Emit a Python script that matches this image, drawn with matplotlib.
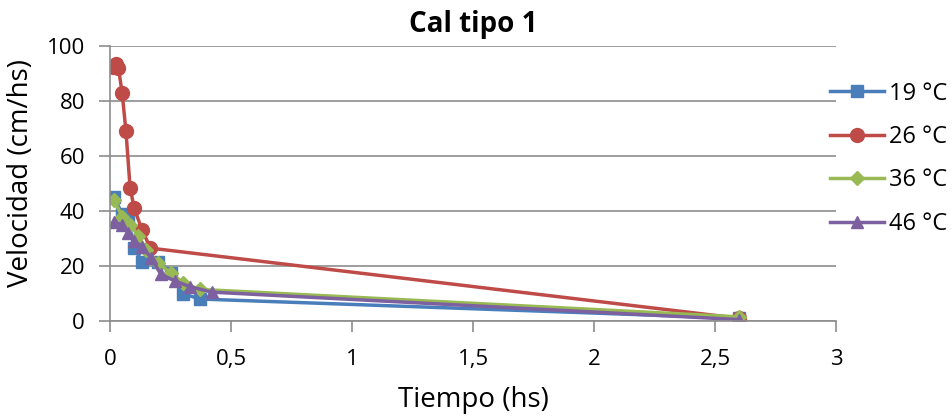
import matplotlib
matplotlib.use("Agg")
import matplotlib.pyplot as plt

plt.rcParams['font.family'] = ['Open Sans', 'DejaVu Sans']

title = "Cal tipo 1"
x_label = "Tiempo (hs)"
y_label = "Velocidad (cm/hs)"

series_labels = ["19 °C", "26 °C", "36 °C", "46 °C"]

t19 = [0.017, 0.05, 0.075, 0.1, 0.133, 0.2, 0.25, 0.3, 0.37, 2.6]
v19 = [45, 39, 37, 26.5, 21.5, 21.5, 17.5, 10, 8, 1]

t26 = [0.012, 0.025, 0.035, 0.05, 0.066, 0.083, 0.1, 0.133, 0.167, 2.6]
v26 = [92.5, 93.5, 92, 83, 69, 48.5, 41, 33, 26.5, 1]

t36 = [0.017, 0.05, 0.083, 0.117, 0.15, 0.2, 0.25, 0.3, 0.37, 2.6]
v36 = [44, 38, 35, 31, 26, 21, 17.5, 14, 11.5, 1.5]

t46 = [0.017, 0.05, 0.075, 0.1, 0.133, 0.17, 0.21, 0.27, 0.33, 0.42, 2.6]
v46 = [36, 35, 32, 29, 27, 23, 17, 14.5, 12.5, 10.5, 0.5]

colors = ["#4A7EBB", "#BE4B48", "#98B954", "#7D60A0"]
markers = ["s", "o", "D", "^"]
msizes = [9, 10, 7, 9]

fig = plt.figure(figsize=(9.52, 4.18), dpi=100)
ax = fig.add_axes([110/952, 1-321/418, (836-110)/952, (321-46)/418])

data = [(t19, v19), (t26, v26), (t36, v36), (t46, v46)]
for (t, v), lab, c, m, ms in zip(data, series_labels, colors, markers, msizes):
    ax.plot(t, v, color=c, marker=m, markersize=ms, linewidth=2.5, label=lab)

ax.set_xlim(0, 3)
ax.set_ylim(0, 100)
ax.set_xticks([0, 0.5, 1, 1.5, 2, 2.5, 3])
ax.set_xticklabels(["0", "0,5", "1", "1,5", "2", "2,5", "3"])
ax.set_yticks([0, 20, 40, 60, 80, 100])

ax.yaxis.grid(True, color="#8c8c8c", linewidth=1.2)
ax.set_axisbelow(True)
for s in ["top", "right"]:
    ax.spines[s].set_visible(False)
for s in ["left", "bottom"]:
    ax.spines[s].set_color("#8c8c8c")
    ax.spines[s].set_linewidth(1.2)
ax.tick_params(axis="both", colors="#8c8c8c", labelcolor="black", labelsize=16,
               length=8, width=1.2)
ax.tick_params(axis="y", pad=10)
ax.tick_params(axis="x", pad=12)

ax.set_title(title, fontsize=20, fontweight="bold", pad=10)
ax.set_xlabel(x_label, fontsize=20, labelpad=12)
ax.set_ylabel(y_label, fontsize=20)
ax.yaxis.set_label_coords((35 - 110) / 726, (321 - 173) / 275)

leg = ax.legend(loc="upper left", bbox_to_anchor=(0.9917, 0.87), frameon=False,
                fontsize=17, handlelength=2.3, labelspacing=0.82, handletextpad=0.2,
                borderaxespad=0, borderpad=0)

fig.savefig("out.png", dpi=100)
